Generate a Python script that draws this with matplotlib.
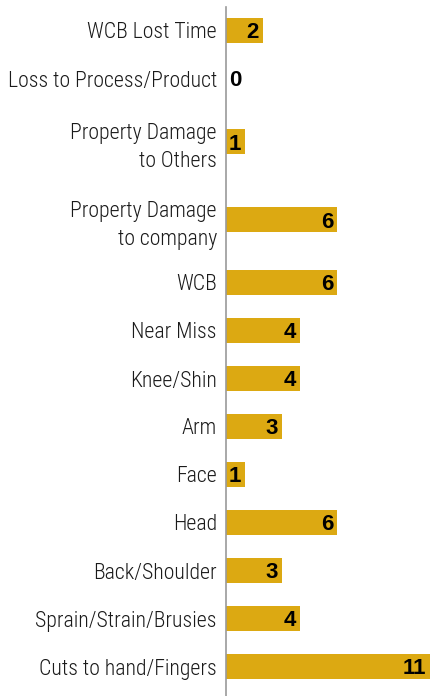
import numpy as np
import matplotlib
matplotlib.use("Agg")
from matplotlib import pyplot as plt
from matplotlib import transforms
from matplotlib import font_manager as fm

# incident counts, top to bottom
categories = [
    "WCB Lost Time",
    "Loss to Process/Product",
    "Property Damage\nto Others",
    "Property Damage\nto company",
    "WCB",
    "Near Miss",
    "Knee/Shin",
    "Arm",
    "Face",
    "Head",
    "Back/Shoulder",
    "Sprain/Strain/Brusies",
    "Cuts to hand/Fingers",
]
counts = [2, 0, 1, 6, 6, 4, 4, 3, 1, 6, 3, 4, 11]

BAR_COLOR = "#DCA912"
AXIS_COLOR = "#9a9a9a"


def pick_font(names):
    for n in names:
        try:
            fm.findfont(fm.FontProperties(family=n), fallback_to_default=False)
            return n
        except ValueError:
            pass
    return "DejaVu Sans"


LABEL_FONT = pick_font(["Liberation Sans Narrow", "Roboto Condensed", "Lato",
                        "Roboto", "Liberation Sans"])
VALUE_FONT = pick_font(["Liberation Sans", "Arial", "Roboto"])

W, H = 430, 696
fig = plt.figure(figsize=(W / 100, H / 100), dpi=100)
ax = fig.add_axes([226 / W, 0, 1 - 226 / W, 1])

# rows grow with the number of label lines, bar sits in the middle of its row
ROW_1 = 48.0
ROW_2 = 78.0
heights = [ROW_1 if "\n" not in c else ROW_2 for c in categories]
tops = 6.5 + np.concatenate([[0], np.cumsum(heights)[:-1]])
y = tops + np.array(heights) / 2

ax.barh(y, counts, height=25, color=BAR_COLOR, edgecolor="none")

ax.set_xlim(0, max(counts))
ax.set_ylim(H, 0)

ax.set_yticks(y)
ax.set_yticklabels(categories, fontsize=17, family=[LABEL_FONT, "DejaVu Sans"],
                   fontweight="light", color="#1a1a1a", linespacing=1.45)
ax.tick_params(axis="y", length=0, pad=6.5)
ax.set_xticks([])

# shrink the labels so the longest one fits the left margin
fig.canvas.draw()
widest = max(t.get_window_extent().width for t in ax.get_yticklabels())
if widest > 210:
    for t in ax.get_yticklabels():
        t.set_fontsize(17 * 210 / widest)

for side in ["top", "right", "bottom"]:
    ax.spines[side].set_visible(False)
ax.spines["left"].set_color(AXIS_COLOR)
ax.spines["left"].set_linewidth(1.2)
ax.spines["left"].set_bounds(7, H)

# value tags at the end of each bar
for yy, v in zip(y, counts):
    if v == 0:
        off = transforms.offset_copy(ax.transData, fig=fig, x=3, y=0, units="dots")
        ax.text(0, yy, str(v), ha="left", va="center_baseline", transform=off,
                fontsize=16, fontweight="bold", family=[VALUE_FONT, "DejaVu Sans"],
                color="black")
    else:
        off = transforms.offset_copy(ax.transData, fig=fig, x=-4, y=0, units="dots")
        ax.text(v, yy, str(v), ha="right", va="center_baseline", transform=off,
                fontsize=16, fontweight="bold", family=[VALUE_FONT, "DejaVu Sans"],
                color="black")

fig.savefig("out.png", dpi=100)
